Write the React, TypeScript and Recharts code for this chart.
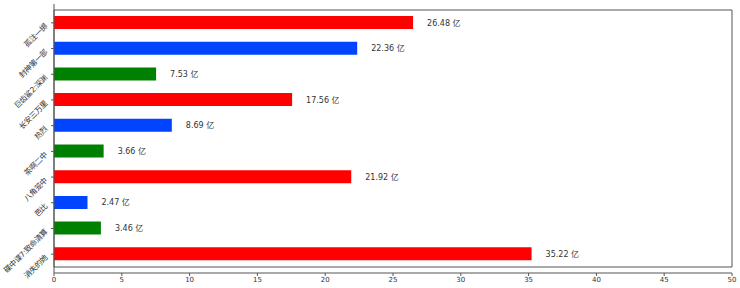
import React from 'react';
import { BarChart, Bar, XAxis, YAxis, Cell, LabelList, ReferenceArea } from 'recharts';

const films = ['消失的她', '碟中谍7:致命清算', '芭比', '八角笼中', '茶啊二中', '热烈', '长安三万里', '巨齿鲨2:深渊', '封神第一部', '孤注一掷'];
const boxOffice = [35.22, 3.46, 2.47, 21.92, 3.66, 8.69, 17.56, 7.53, 22.36, 26.48];
const palette = ['#ff0000', '#008000', '#0044ff'];
const xTicks = [0, 5, 10, 15, 20, 25, 30, 35, 40, 45, 50];

// top-to-bottom display order (first category at top)
const data = films
  .map((name, i) => ({ name, value: boxOffice[i], color: palette[i % 3] }))
  .reverse();

const FONT = '"DejaVu Sans", "Noto Sans CJK SC", sans-serif';

const YTick = (props: any) => {
  const { x, y, payload } = props;
  return (
    <g transform={`translate(${x - 1},${y + 4}) rotate(-45)`}>
      <text x={0} y={0} textAnchor="end" fontSize={7.6} letterSpacing={-0.3} fill="#333" fontFamily={FONT}>
        {payload.value}
      </text>
    </g>
  );
};

const ValueLabel = (props: any) => {
  const { x, y, width, height, value } = props;
  return (
    <text
      x={x + width + 14}
      y={y + height / 2 + 3}
      fontSize={8}
      fill="#333"
      fontFamily={FONT}
    >
      {`${Number(value).toFixed(2)} 亿`}
    </text>
  );
};

export default function App() {
  return (
    <div style={{ position: 'absolute', left: 0, top: 0, background: '#fff' }}>
      <BarChart
        width={740}
        height={288}
        data={data}
        layout="vertical"
        margin={{ top: 4, right: 8, bottom: 0, left: 0 }}
        barCategoryGap={0}
      >
        <XAxis
          type="number"
          domain={[0, 50]}
          ticks={xTicks}
          height={15}
          tick={{ fontSize: 7, fill: '#333', fontFamily: FONT }}
          tickSize={3}
          tickMargin={1}
          stroke="#555"
          interval={0}
        />
        <YAxis
          type="category"
          dataKey="name"
          width={54}
          tick={<YTick />}
          tickSize={3}
          stroke="#555"
          padding={{ top: 6, bottom: 6 }}
          interval={0}
        />
        <ReferenceArea x1={0} x2={50} stroke="#555" strokeWidth={1} fill="none" fillOpacity={0} ifOverflow="visible" />
        <Bar dataKey="value" barSize={13} isAnimationActive={false}>
          {data.map((d, i) => (
            <Cell key={i} fill={d.color} />
          ))}
          <LabelList dataKey="value" content={<ValueLabel />} />
        </Bar>
      </BarChart>
    </div>
  );
}
